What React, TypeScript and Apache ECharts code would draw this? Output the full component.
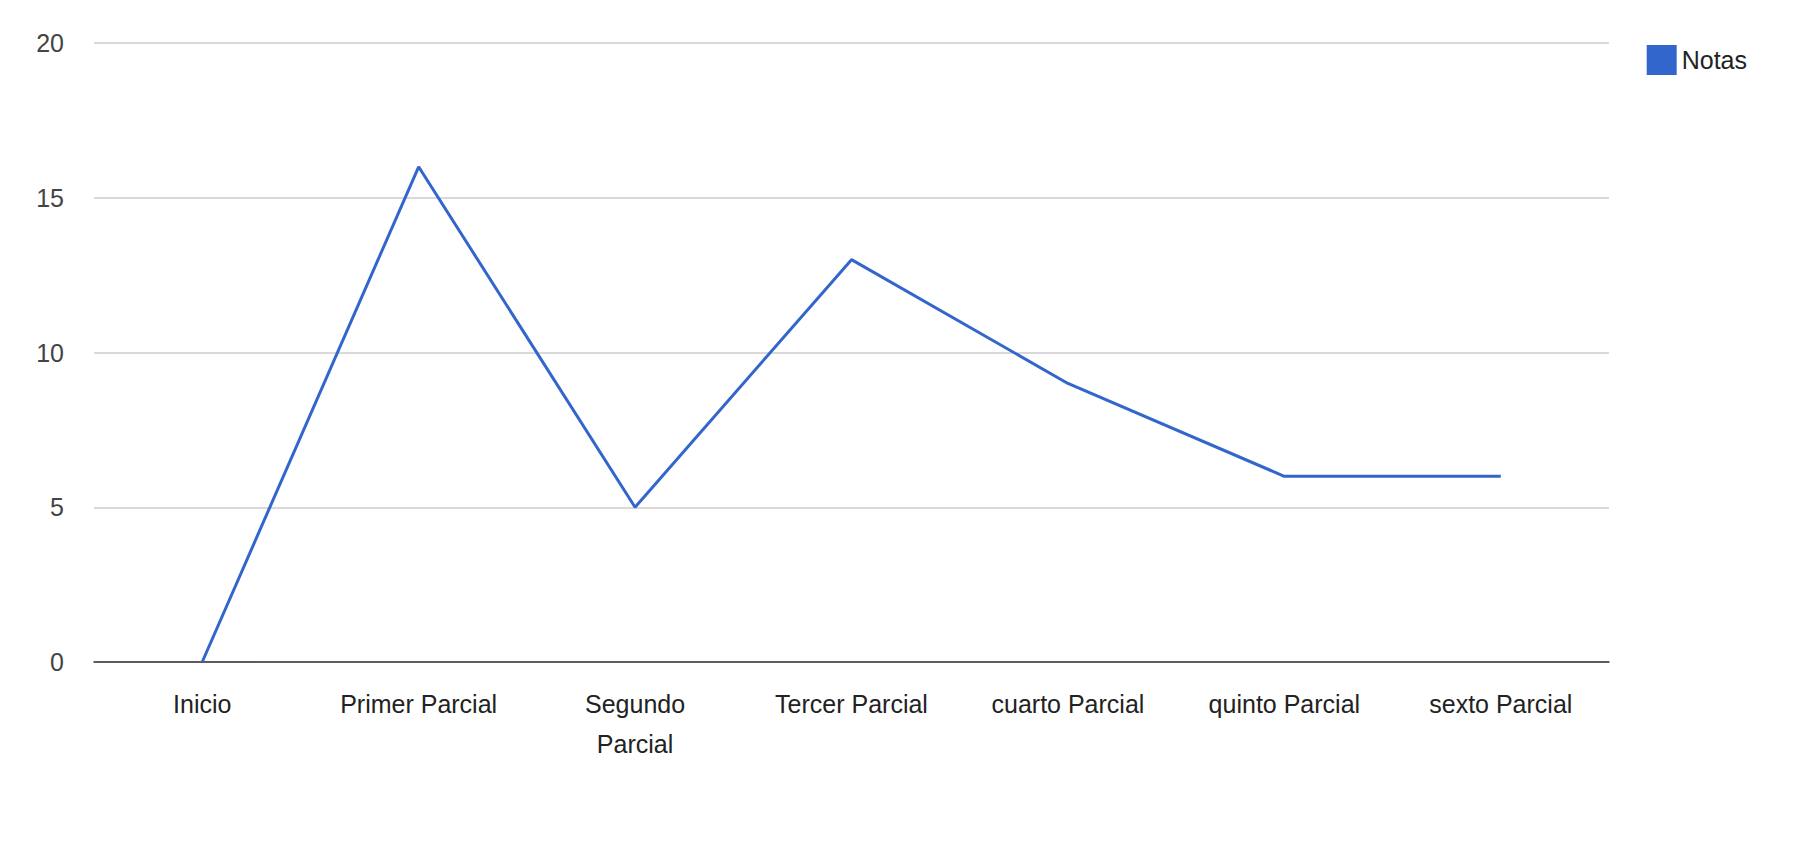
import { useEffect, useRef } from 'react';
import * as echarts from 'echarts';

const categories = ['Inicio', 'Primer Parcial', 'Segundo Parcial', 'Tercer Parcial', 'cuarto Parcial', 'quinto Parcial', 'sexto Parcial'];
const notas = [0, 16, 5, 13, 9, 6, 6];
const yTicks = { min: 0, max: 20, interval: 5 };

const FONT = '"Liberation Sans", Arial, sans-serif';

const App = () => {
    const chartRef = useRef<HTMLDivElement>(null);

    useEffect(() => {
        if (!chartRef.current) return;
        const chart = echarts.init(chartRef.current, undefined, { renderer: 'svg' });
        chart.setOption({
            animation: false,
            textStyle: { fontFamily: FONT },
            legend: {
                right: 44,
                top: 40,
                itemWidth: 30,
                itemHeight: 30,
                itemGap: 10,
                icon: 'rect',
                textStyle: { fontSize: 25, color: '#222', fontFamily: FONT },
                data: ['Notas'],
            },
            grid: { left: 94, right: 187, top: 43, bottom: 192 },
            xAxis: {
                type: 'category',
                data: categories,
                boundaryGap: true,
                axisLine: { lineStyle: { color: '#333', width: 1.5 } },
                axisTick: { show: false },
                axisLabel: {
                    fontSize: 25,
                    color: '#222',
                    margin: 22,
                    lineHeight: 40,
                    interval: 0,
                    formatter: (v: string) => (v === 'Segundo Parcial' ? 'Segundo\nParcial' : v),
                },
            },
            yAxis: {
                type: 'value',
                ...yTicks,
                axisLine: { show: false },
                axisTick: { show: false },
                splitLine: { lineStyle: { color: '#cccccc', width: 1.5 } },
                axisLabel: { fontSize: 25, color: '#444', margin: 30 },
            },
            series: [
                {
                    name: 'Notas',
                    type: 'line',
                    data: notas,
                    symbol: 'none',
                    color: '#3366cc',
                    lineStyle: { color: '#3366cc', width: 3 },
                },
            ],
        });
        return () => chart.dispose();
    }, []);

    return <div ref={chartRef} style={{ position: 'fixed', left: 0, top: 0, width: 1796, height: 854, background: '#fff' }} />;
};

export default App;
